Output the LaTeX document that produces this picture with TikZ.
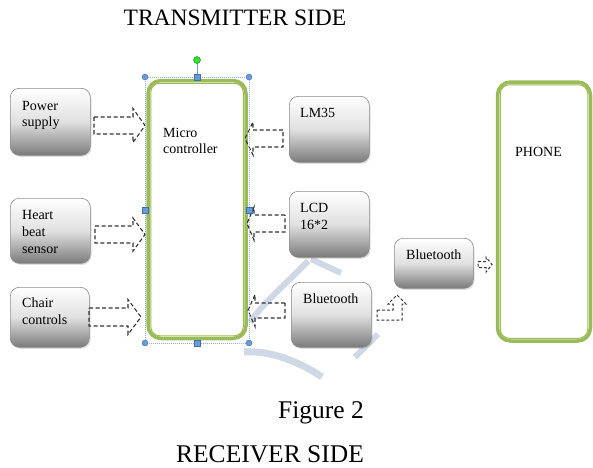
\documentclass[tikz,border=0pt]{standalone}
\usepackage{fontspec}
\setmainfont{Liberation Serif}
\usetikzlibrary{shadows}
\definecolor{ogreen}{HTML}{9BBB59}
\definecolor{wm}{HTML}{CFD9E5}
\definecolor{selb}{HTML}{8DB3E2}
\definecolor{hdl}{HTML}{6A9AD8}
\definecolor{hdlb}{HTML}{3F6FAF}
\newcommand{\arrR}[6]{\draw[blockarr] (#1,#4-#5) -- (#2,#4-#5) -- (#2,#4-#6) -- (#3,#4) -- (#2,#4+#6) -- (#2,#4+#5) -- (#1,#4+#5) -- cycle;}
\begin{document}
\begin{tikzpicture}[x=1pt,y=-1pt,
 graybox/.style={draw=black!45, line width=0.6pt, rounded corners=9pt, top color=white, bottom color=black!52, middle color=black!12, minimum width=#1},
 btxt/.style={font=\fontsize{14}{16}\selectfont, inner sep=0pt, anchor=base west},
 ttl/.style={font=\fontsize{23.5}{28}\selectfont, inner sep=0pt, anchor=base},
 ttlb/.style={font=\fontsize{25.5}{30}\selectfont, inner sep=0pt, anchor=base},
 blockarr/.style={draw=black!80, line width=1.1pt, dash pattern=on 4pt off 2.5pt, line join=miter},
 wmark/.style={draw=wm, line width=6pt},
 gbox/.style={draw=ogreen, line width=3.5pt, rounded corners=13pt},
 hcirc/.style={circle, fill=hdl, draw=hdlb, line width=0.4pt, minimum size=6pt, inner sep=0pt},
 hsq/.style={rectangle, fill=hdl, draw=hdlb, line width=0.4pt, minimum size=6pt, inner sep=0pt}]
\useasboundingbox (0,0) rectangle (593,467);
% watermark
\draw[wmark] (311,259) -- (341,273);
\draw[wmark] (308,261) .. controls (288,282) and (264,302) .. (250,322);
\draw[wmark, line width=7pt] (244,352) .. controls (270,350) and (300,362) .. (322,377);
\draw[wmark] (378,334) -- (355,357);
% titles
\node[ttl] (t1) at (235,25) {TRANSMITTER SIDE};
\node[ttlb] (t2) at (321,418) {Figure 2};
\node[ttlb] (t3) at (270,462) {RECEIVER SIDE};
% main controller and phone
\node[gbox, minimum width=98pt, minimum height=258pt] (mc) at (197,209.5) {};
\draw[ogreen, line width=1pt, rounded corners=9pt] ([shift={(4.5,4.5)}]mc.north west) rectangle ([shift={(-4.5,-4.5)}]mc.south east);
\node[gbox, minimum width=93pt, minimum height=259pt] (ph) at (544,211.5) {};
\draw[ogreen, line width=1pt, rounded corners=9pt] ([shift={(4.5,4.5)}]ph.north west) rectangle ([shift={(-4.5,-4.5)}]ph.south east);
% gray boxes
\begin{scope}[every node/.append style={drop shadow={shadow xshift=1.2pt, shadow yshift=-1.5pt, opacity=0.25}}]
\node[graybox=80pt, minimum height=67pt, anchor=north west] (ps) at (10,88) {};
\node[graybox=80pt, minimum height=65pt, anchor=north west] (hb) at (10,198) {};
\node[graybox=79pt, minimum height=60pt, anchor=north west] (cc) at (10,287) {};
\node[graybox=80pt, minimum height=66pt, anchor=north west] (lm) at (289,96) {};
\node[graybox=80pt, minimum height=66pt, anchor=north west] (lcd) at (289,191) {};
\node[graybox=80pt, minimum height=65pt, anchor=north west] (bt1) at (291,282) {};
\node[graybox=79pt, minimum height=50pt, anchor=north west] (bt2) at (394,238) {};
\end{scope}
% texts
\node[btxt] (a1) at (22,110) {Power};
\node[btxt] (a2) at (22,126) {supply};
\node[btxt] (b1) at (22,219) {Heart};
\node[btxt] (b2) at (22,236) {beat};
\node[btxt] (b3) at (22,253) {sensor};
\node[btxt] (c1) at (22,307) {Chair};
\node[btxt] (c2) at (22,324) {controls};
\node[btxt] (m1) at (163,137) {Micro};
\node[btxt] (m2) at (163,153) {controller};
\node[btxt] (l1) at (300,117) {LM35};
\node[btxt] (d1) at (300,212) {LCD};
\node[btxt] (d2) at (300,229) {16*2};
\node[btxt] (e1) at (303,303) {Bluetooth};
\node[btxt] (e2) at (406,259) {Bluetooth};
\node[btxt] (p1) at (515,156) {PHONE};
% block arrows
\arrR{94}{133}{145}{125.5}{8.5}{17}
\arrR{95}{133}{145}{234.5}{8.5}{16.5}
\arrR{89}{128}{141}{317}{9}{17.5}
\arrR{283}{253}{245}{138.5}{8.5}{16.5}
\arrR{285}{254}{247}{223.5}{8.5}{16.5}
\arrR{285}{255}{248}{310.5}{7.5}{16}
\draw[blockarr, line width=1pt, dash pattern=on 3pt off 2pt] (377,310) -- (393,310) -- (393,304) -- (388,304) -- (397,295) -- (406,304) -- (402,304) -- (402,320) -- (377,320) -- cycle;
\draw[blockarr, line width=1pt, dash pattern=on 3pt off 2pt] (478,261.5) -- (486,261.5) -- (486,257) -- (492,264.5) -- (486,272) -- (486,267.5) -- (478,267.5) -- cycle;
% selection frame and handles
\draw[selb, line width=0.6pt, dash pattern=on 1pt off 1pt] (145,77) rectangle (249,343);
\draw[hdlb!70, line width=1pt] (197,63) -- (197,74);
\node[circle, fill=green!85!black!80, draw=green!50!black, line width=0.4pt, minimum size=7pt, inner sep=0pt] (rot) at (197,60) {};
\node[hcirc] (h1) at (145,77) {};
\node[hcirc] (h2) at (249,77) {};
\node[hcirc] (h3) at (145,343) {};
\node[hcirc] (h4) at (249,343) {};
\node[hsq] (s1) at (197,77) {};
\node[hsq] (s2) at (197,343) {};
\node[hsq] (s3) at (145,210) {};
\node[hsq] (s4) at (249,210) {};
\end{tikzpicture}
\end{document}
